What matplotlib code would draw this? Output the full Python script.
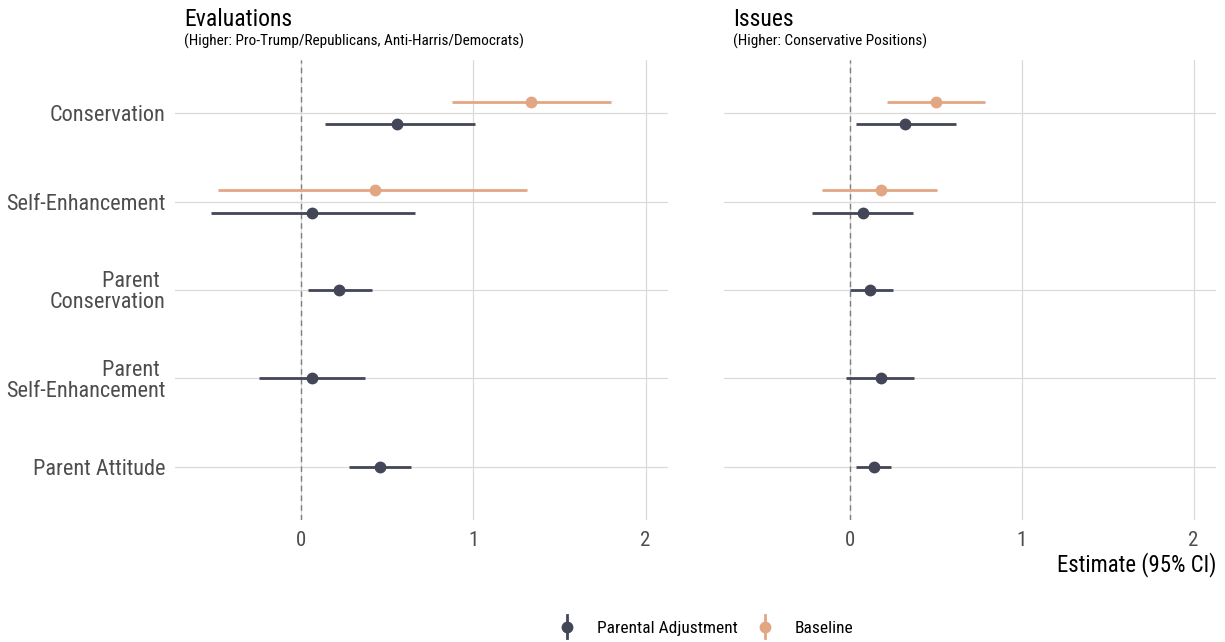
import matplotlib
matplotlib.use("Agg")
import matplotlib.pyplot as plt
from matplotlib import font_manager
from matplotlib.lines import Line2D
from matplotlib.legend_handler import HandlerBase

names = {f.name for f in font_manager.fontManager.ttflist}
FONT = "Roboto Condensed" if "Roboto Condensed" in names else "Roboto"
plt.rcParams["font.family"] = [FONT, "DejaVu Sans"]

# ---------------- data ----------------
categories = ["Conservation", "Self-Enhancement", "Parent \nConservation",
              "Parent \nSelf-Enhancement", "Parent Attitude"]
series = ["Parental Adjustment", "Baseline"]

# Evaluations panel
eval_adj_est = [0.555, 0.066, 0.22, 0.066, 0.46]
eval_adj_lo = [0.14, -0.52, 0.04, -0.24, 0.28]
eval_adj_hi = [1.01, 0.66, 0.41, 0.37, 0.64]
eval_base_est = [1.337, 0.43]
eval_base_lo = [0.877, -0.48]
eval_base_hi = [1.80, 1.31]

# Issues panel
iss_adj_est = [0.32, 0.08, 0.12, 0.18, 0.14]
iss_adj_lo = [0.04, -0.22, 0.0, -0.02, 0.04]
iss_adj_hi = [0.62, 0.37, 0.25, 0.375, 0.24]
iss_base_est = [0.50, 0.18]
iss_base_lo = [0.22, -0.16]
iss_base_hi = [0.79, 0.51]

titles = ["Evaluations", "Issues"]
subtitles = ["(Higher: Pro-Trump/Republicans, Anti-Harris/Democrats)",
             "(Higher: Conservative Positions)"]
xticks = [0, 1, 2]
xlabel = "Estimate (95% CI)"

C_ADJ = "#434657"
C_BASE = "#E2A782"
GRID = "#DADADA"
TXT = "#4D4D4D"

W, H = 1225, 642
fig = plt.figure(figsize=(W / 100, H / 100), dpi=100)

def fx(px): return px / W
def fy(py): return 1 - py / H

panels = [
    (175, 668, eval_adj_est, eval_adj_lo, eval_adj_hi, eval_base_est, eval_base_lo, eval_base_hi),
    (724, 1216, iss_adj_est, iss_adj_lo, iss_adj_hi, iss_base_est, iss_base_lo, iss_base_hi),
]
top, bot = 60, 520
dodge = 0.125
n = len(categories)

axes = []
for i, (x0, x1, ae, al, ah, be, bl, bh) in enumerate(panels):
    ax = fig.add_axes([fx(x0), fy(bot), fx(x1 - x0), (bot - top) / H])
    axes.append(ax)
    ax.set_xlim(-0.73, 2.13)
    ax.set_ylim(n - 1 + 0.6, -0.6)
    for s in ax.spines.values():
        s.set_visible(False)
    ax.set_xticks(xticks)
    ax.set_xticklabels([str(t) for t in xticks])
    ax.set_yticks(range(n))
    if i == 0:
        ax.set_yticklabels(categories, ha="right", linespacing=1.0)
    else:
        ax.set_yticklabels([])
    ax.tick_params(axis="both", length=0, labelcolor=TXT)
    ax.tick_params(axis="x", pad=8, labelsize=15)
    ax.tick_params(axis="y", pad=7, labelsize=16)
    ax.grid(True, color=GRID, linewidth=0.9)
    ax.set_axisbelow(True)
    ax.axvline(0, color="#7F7F7F", linestyle=(0, (4, 3)), linewidth=1.0, zorder=1)

    has_base = len(be)
    for k in range(n):
        y = k + (dodge if k < has_base else 0)
        ax.plot([al[k], ah[k]], [y, y], color=C_ADJ, linewidth=2.0, zorder=3,
                solid_capstyle="butt")
        ax.plot([ae[k]], [y], "o", color=C_ADJ, markersize=7.5, zorder=4)
    for k in range(has_base):
        y = k - dodge
        ax.plot([bl[k], bh[k]], [y, y], color=C_BASE, linewidth=2.0, zorder=3,
                solid_capstyle="butt")
        ax.plot([be[k]], [y], "o", color=C_BASE, markersize=7.5, zorder=4)

    fig.text(fx(x0 + 9), fy(26), titles[i], fontsize=17, color="black",
             ha="left", va="baseline")
    fig.text(fx(x0 + 9), fy(46), subtitles[i], fontsize=11, color="black",
             ha="left", va="baseline")

fig.text(fx(1216), fy(565), xlabel, fontsize=16.4, color="black",
         ha="right", va="center")


class PointRangeHandler(HandlerBase):
    def create_artists(self, legend, orig_handle, xdescent, ydescent, width,
                       height, fontsize, trans):
        cx = width / 2 - xdescent
        cy = height / 2 - ydescent
        c = orig_handle.get_color()
        vl = Line2D([cx, cx], [cy - 0.95 * height, cy + 0.95 * height],
                    color=c, linewidth=2.0, transform=trans)
        pt = Line2D([cx], [cy], marker="o", color=c, markersize=7.5,
                    linestyle="none", transform=trans)
        return [vl, pt]


handles = [Line2D([], [], color=C_ADJ), Line2D([], [], color=C_BASE)]
fig.legend(handles, series, loc="center", bbox_to_anchor=(fx(706), fy(628)),
           ncol=2, frameon=False, fontsize=12.5, handlelength=1.0,
           handletextpad=1.2, columnspacing=1.1,
           handler_map={Line2D: PointRangeHandler()})

fig.savefig("out.png", dpi=100)
